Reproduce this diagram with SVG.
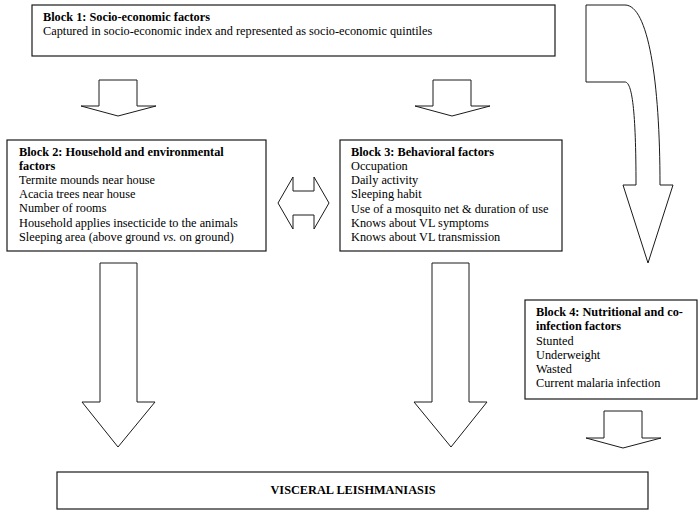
<svg xmlns="http://www.w3.org/2000/svg" width="700" height="513" viewBox="0 0 700 513">
<style>
.box{fill:#fff;stroke:#1a1a1a;stroke-width:1.2}
.arr{fill:#fff;stroke:#1a1a1a;stroke-width:1}
text{font-family:"Liberation Serif","Times New Roman",serif;font-size:12.3px;fill:#000}
.b{font-weight:bold}
</style>
<rect x="0" y="0" width="700" height="513" fill="#fff"/>
<g id="connectors">
<path class="arr" d="M99,80 H137 V106 H156 L118,116 L81,106 H99 Z"/>
<path class="arr" d="M433,80 H471 V106 H490 L452,116 L415,106 H433 Z"/>
<path class="arr" d="M586,5 H625 C648,5 660,80 660,185 H673 L648,263 L623,185 H636 C636,110 632,82 625,82 H586 Z"/>
<path class="arr" d="M278,203 L293,177 V191 H314 V177 L329,203 L314,229 V215 H293 V229 Z"/>
<path class="arr" d="M100,263 H137 V402 H155 L118,447 L82,402 H100 Z"/>
<path class="arr" d="M432,263 H469 V402 H487 L451,447 L414,402 H432 Z"/>
<path class="arr" d="M604,411 H642 V438 H661 L623,448 L586,438 H604 Z"/>
</g>
<g id="block1">
<rect class="box" x="32" y="5" width="523" height="51"/>
<text x="43" y="21" class="b">Block 1: Socio-economic factors</text>
<text x="43" y="35">Captured in socio-economic index and represented as socio-economic quintiles</text>
</g>
<g id="block2">
<rect class="box" x="7" y="140" width="259" height="111"/>
<text x="19" y="156" class="b">Block 2: Household and environmental</text>
<text x="19" y="170" class="b">factors</text>
<text x="19" y="184">Termite mounds near house</text>
<text x="19" y="198">Acacia trees near house</text>
<text x="19" y="212">Number of rooms</text>
<text x="19" y="227">Household applies insecticide to the animals</text>
<text x="19" y="241">Sleeping area (above ground <tspan font-style="italic">vs.</tspan> on ground)</text>
</g>
<g id="block3">
<rect class="box" x="340" y="140" width="222" height="111"/>
<text x="351" y="156" class="b">Block 3: Behavioral factors</text>
<text x="351" y="170">Occupation</text>
<text x="351" y="184">Daily activity</text>
<text x="351" y="198">Sleeping habit</text>
<text x="351" y="213">Use of a mosquito net &amp; duration of use</text>
<text x="351" y="227">Knows about VL symptoms</text>
<text x="351" y="241">Knows about VL transmission</text>
</g>
<g id="block4">
<rect class="box" x="525" y="300" width="172" height="99"/>
<text x="536" y="316" class="b">Block 4: Nutritional and co-</text>
<text x="536" y="330" class="b">infection factors</text>
<text x="536" y="345">Stunted</text>
<text x="536" y="359">Underweight</text>
<text x="536" y="373">Wasted</text>
<text x="536" y="387">Current malaria infection</text>
</g>
<g id="outcome">
<rect class="box" x="57" y="472" width="591" height="37"/>
<text x="353" y="494" class="b" text-anchor="middle">VISCERAL LEISHMANIASIS</text>
</g>
</svg>
